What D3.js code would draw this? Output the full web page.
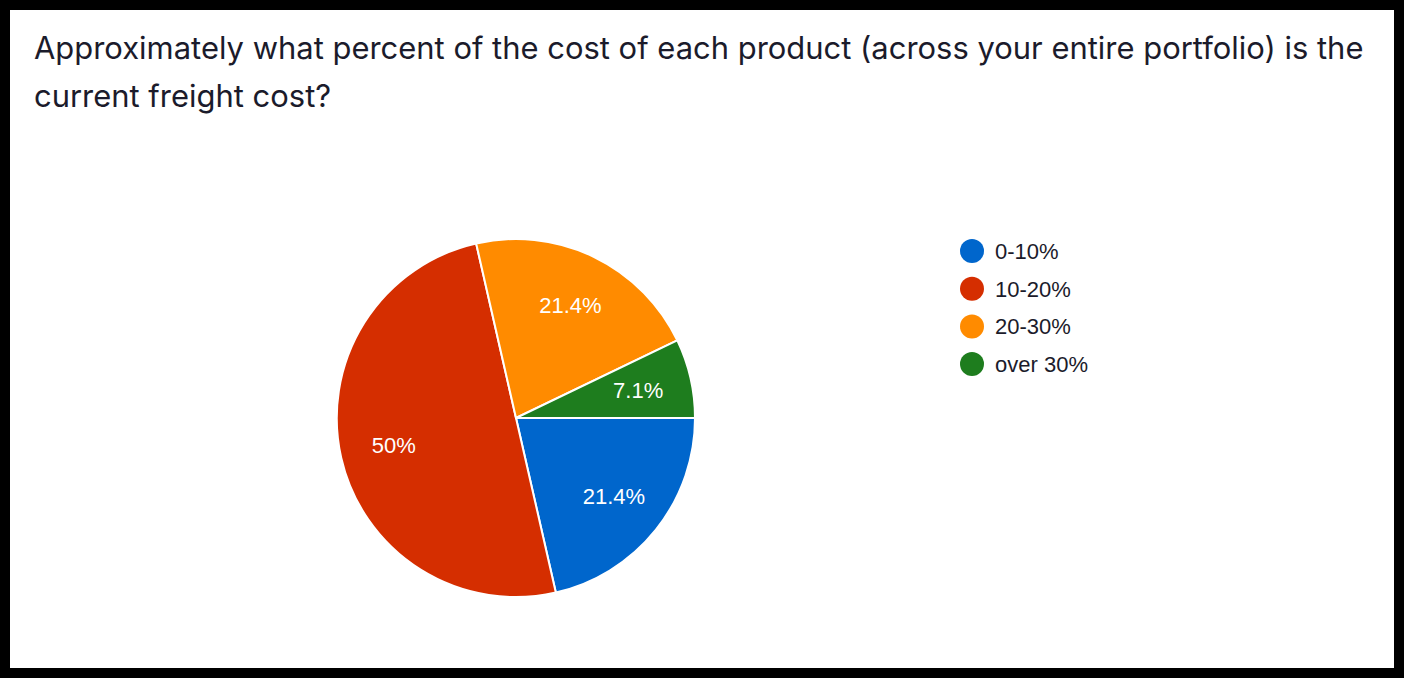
<!DOCTYPE html>
<html>
<head>
<meta charset="utf-8">
<script src="https://cdn.jsdelivr.net/npm/d3@7"></script>
<style>
html,body{margin:0;padding:0;background:#000;}
svg{display:block;}
</style>
</head>
<body>
<svg id="chart" width="1404" height="678"></svg>
<script>
const titleLines = ["Approximately what percent of the cost of each product (across your entire portfolio) is the", "current freight cost?"];
const categories = ["0-10%", "10-20%", "20-30%", "over 30%"];
const counts = [3, 7, 3, 1];
const labels = ["21.4%", "50%", "21.4%", "7.1%"];
const colors = ["#0066cc", "#d52e00", "#ff8b00", "#1e7d1e"];

const svg = d3.select("#chart");
svg.append("rect").attr("x", 10).attr("y", 10).attr("width", 1384).attr("height", 658).attr("fill", "#fff");

// Title
const title = svg.append("g");
const t1 = title.append("text").attr("x", 34).attr("y", 59)
  .attr("font-family", "Inter, 'Open Sans', sans-serif").attr("font-size", 26)
  .attr("fill", "#1b1b2b").text(titleLines[0]);
const w = t1.node().getComputedTextLength();
const fs = 26 * 1330 / w;
t1.attr("font-size", fs);
title.append("text").attr("x", 34).attr("y", 107)
  .attr("font-family", "Inter, 'Open Sans', sans-serif").attr("font-size", fs)
  .attr("fill", "#1b1b2b").text(titleLines[1]);

// Pie
const cx = 516, cy = 418, r = 179;
const data = categories.map((c, i) => ({cat: c, value: counts[i], label: labels[i], color: colors[i]}));
const pie = d3.pie().value(d => d.value).sort(null).startAngle(Math.PI / 2).endAngle(Math.PI / 2 + 2 * Math.PI);
const arcs = pie(data);
const arc = d3.arc().innerRadius(0).outerRadius(r);
const labelArc = d3.arc().innerRadius(r * 0.7).outerRadius(r * 0.7);
const g = svg.append("g").attr("transform", `translate(${cx},${cy})`);
g.selectAll("path").data(arcs).join("path")
  .attr("d", arc).attr("fill", d => d.data.color)
  .attr("stroke", "#fff").attr("stroke-width", 2);
g.selectAll("text").data(arcs).join("text")
  .attr("transform", d => `translate(${labelArc.centroid(d)})`)
  .attr("text-anchor", "middle").attr("dy", "0.34em")
  .attr("font-family", "'Liberation Sans', Arial, sans-serif").attr("font-size", 22)
  .attr("fill", "#fff").text(d => d.data.label);

// Legend
const legend = svg.append("g").attr("transform", "translate(972,251)");
const rows = legend.selectAll("g").data(data).join("g")
  .attr("transform", (d, i) => `translate(0,${i * 37.7})`);
rows.append("circle").attr("r", 12).attr("fill", d => d.color);
rows.append("text").attr("x", 23).attr("dy", "0.36em")
  .attr("font-family", "'Liberation Sans', Arial, sans-serif").attr("font-size", 22)
  .attr("fill", "#1b1b2b").text(d => d.cat);
</script>
</body>
</html>
